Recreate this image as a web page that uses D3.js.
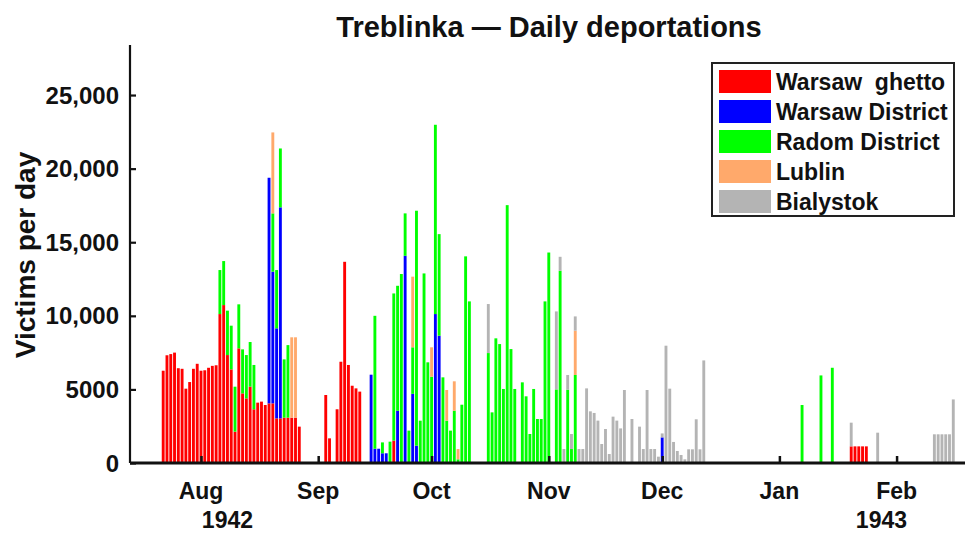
<!DOCTYPE html>
<html>
<head>
<meta charset="utf-8">
<script src="https://cdnjs.cloudflare.com/ajax/libs/d3/7.8.5/d3.min.js"></script>
<style>
body { margin: 0; background: #fff; }
svg text { font-family: Arial, "Liberation Sans", sans-serif; font-weight: bold; fill: #111; }
</style>
</head>
<body>
<div id="chart"></div>
<script>
// daily arrivals, [date, victims]
var warsawGhetto = [
  ["1942-07-22", 6270], ["1942-07-23", 7320], ["1942-07-24", 7400], ["1942-07-25", 7500],
  ["1942-07-26", 6440], ["1942-07-27", 6400], ["1942-07-28", 5050], ["1942-07-29", 5500],
  ["1942-07-30", 6400], ["1942-07-31", 6740], ["1942-08-01", 6270], ["1942-08-02", 6300],
  ["1942-08-03", 6470], ["1942-08-04", 6600], ["1942-08-05", 6640], ["1942-08-06", 10120],
  ["1942-08-07", 10730], ["1942-08-08", 7335], ["1942-08-09", 6360], ["1942-08-10", 2130],
  ["1942-08-11", 7790], ["1942-08-12", 4730], ["1942-08-13", 4390], ["1942-08-14", 5185],
  ["1942-08-15", 3650], ["1942-08-16", 4100], ["1942-08-17", 4170], ["1942-08-18", 3940],
  ["1942-08-19", 4050], ["1942-08-20", 4050], ["1942-08-21", 3030], ["1942-08-22", 3030],
  ["1942-08-23", 3080], ["1942-08-24", 3080], ["1942-08-25", 3080], ["1942-08-26", 3080],
  ["1942-08-27", 2470],
  ["1942-09-03", 4620], ["1942-09-04", 1675], ["1942-09-06", 3650], ["1942-09-07", 6880],
  ["1942-09-08", 13670], ["1942-09-09", 6660], ["1942-09-10", 5250], ["1942-09-11", 5070],
  ["1942-09-12", 4850], ["1942-09-21", 1520],
  ["1943-01-20", 1130], ["1943-01-21", 1130], ["1943-01-22", 1130], ["1943-01-23", 1130],
  ["1943-01-24", 1130]
];
var warsawDistrict = [
  ["1942-08-19", 15330], ["1942-08-20", 8950], ["1942-08-21", 6120], ["1942-08-22", 14340],
  ["1942-09-15", 6000], ["1942-09-16", 970], ["1942-09-17", 970], ["1942-09-18", 660],
  ["1942-09-19", 660], ["1942-09-22", 3550], ["1942-09-24", 14080], ["1942-09-26", 4700],
  ["1942-09-27", 1180], ["1942-10-02", 10120], ["1942-10-03", 8650], ["1942-12-01", 1740]
];
var radomDistrict = [
  ["1942-08-06", 2990], ["1942-08-07", 2990], ["1942-08-08", 3015], ["1942-08-09", 2970],
  ["1942-08-10", 3055], ["1942-08-11", 2990], ["1942-08-12", 2990], ["1942-08-13", 2945],
  ["1942-08-14", 3035], ["1942-08-15", 3010],
  ["1942-08-20", 3960], ["1942-08-21", 3960], ["1942-08-22", 4000], ["1942-08-23", 3960],
  ["1942-08-24", 4930],
  ["1942-09-16", 9030], ["1942-09-18", 740], ["1942-09-20", 1450], ["1942-09-21", 10000],
  ["1942-09-22", 8490], ["1942-09-23", 12840], ["1942-09-24", 2880], ["1942-09-25", 2200],
  ["1942-09-26", 3160], ["1942-09-27", 15960], ["1942-09-28", 2875], ["1942-09-29", 12880],
  ["1942-09-30", 6840], ["1942-10-01", 5860], ["1942-10-02", 12860], ["1942-10-03", 6900],
  ["1942-10-04", 5820], ["1942-10-05", 2875], ["1942-10-06", 2200], ["1942-10-07", 3550],
  ["1942-10-08", 250], ["1942-10-09", 3960], ["1942-10-10", 14040], ["1942-10-11", 10980],
  ["1942-10-16", 7470], ["1942-10-17", 3440], ["1942-10-18", 8470], ["1942-10-19", 8080],
  ["1942-10-20", 5030], ["1942-10-21", 17520], ["1942-10-22", 7740], ["1942-10-23", 5030],
  ["1942-10-25", 5480], ["1942-10-26", 4530], ["1942-10-27", 1970], ["1942-10-28", 5030],
  ["1942-10-29", 2990], ["1942-10-30", 2990], ["1942-10-31", 10980], ["1942-11-01", 14300],
  ["1942-11-03", 5000], ["1942-11-04", 13060], ["1942-11-06", 4980], ["1942-11-07", 950],
  ["1942-11-08", 5980],
  ["1943-01-07", 3940], ["1943-01-12", 5950], ["1943-01-15", 6470]
];
var lublin = [
  ["1942-08-20", 5500], ["1942-08-25", 5460], ["1942-08-26", 5460], ["1942-09-26", 4800],
  ["1942-10-01", 2000], ["1942-10-05", 2085], ["1942-10-07", 2000], ["1942-10-08", 700],
  ["1942-11-08", 3010]
];
var bialystok = [
  ["1942-10-16", 3330], ["1942-11-03", 5300], ["1942-11-04", 950], ["1942-11-05", 950],
  ["1942-11-06", 1000], ["1942-11-07", 1020], ["1942-11-08", 970], ["1942-11-09", 950],
  ["1942-11-10", 950], ["1942-11-11", 5070], ["1942-11-12", 3510], ["1942-11-13", 3400],
  ["1942-11-14", 2880], ["1942-11-15", 1290], ["1942-11-16", 2310], ["1942-11-17", 610],
  ["1942-11-18", 3150], ["1942-11-19", 2880], ["1942-11-20", 2350], ["1942-11-21", 4960],
  ["1942-11-23", 2990], ["1942-11-25", 2470], ["1942-11-26", 950], ["1942-11-27", 4960],
  ["1942-11-28", 950], ["1942-11-29", 950], ["1942-11-30", 430], ["1942-12-01", 270],
  ["1942-12-02", 7970], ["1942-12-03", 5050], ["1942-12-04", 1430], ["1942-12-05", 815],
  ["1942-12-06", 545], ["1942-12-07", 250], ["1942-12-08", 930], ["1942-12-09", 930],
  ["1942-12-10", 2970], ["1942-12-11", 930], ["1942-12-12", 6970],
  ["1943-01-20", 1610], ["1943-01-27", 2060],
  ["1943-02-11", 1950], ["1943-02-12", 1950], ["1943-02-13", 1950], ["1943-02-14", 1950],
  ["1943-02-15", 1950], ["1943-02-16", 4320]
];

var seriesKeys = ["ghetto", "district", "radom", "lublin", "bialystok"];
var seriesData = [warsawGhetto, warsawDistrict, radomDistrict, lublin, bialystok];
var seriesNames = ["Warsaw  ghetto", "Warsaw District", "Radom District", "Lublin", "Bialystok"];
var seriesColors = ["#ff0000", "#0000ff", "#00ff00", "#ffa96b", "#b4b4b4"];

var yTicks = [0, 5000, 10000, 15000, 20000, 25000];
var yTickLabels = ["0", "5000", "10,000", "15,000", "20,000", "25,000"];
var monthTicks = ["1942-08-01", "1942-09-01", "1942-10-01", "1942-11-01", "1942-12-01", "1943-01-01", "1943-02-01"];
var monthLabels = ["Aug", "Sep", "Oct", "Nov", "Dec", "Jan", "Feb"];
var yearLabels = [["1942", "1942-08-08"], ["1943", "1943-01-28"]];
var xLimits = ["1942-07-13T05:17:00Z", "1943-02-19T02:24:00Z"];
var yMax = 28400;

var width = 968,
    height = 533;
// plot box (can't use "top" as a global name, it is window.top)
var plotLeft = 130, plotRight = 965, plotTop = 45, plotBottom = 463;

var parse = function(s) { return new Date(s.length > 10 ? s : s + "T00:00:00Z"); };

// one row per day, zeros where nothing arrived
var start = parse("1942-07-22"), end = parse("1943-02-16");
var days = d3.utcDay.range(start, d3.utcDay.offset(end, 1));
var byDay = {};
days.forEach(function(d) {
  var row = {date: d};
  seriesKeys.forEach(function(k) { row[k] = 0; });
  byDay[+d] = row;
});
seriesData.forEach(function(list, i) {
  list.forEach(function(p) { byDay[+parse(p[0])][seriesKeys[i]] = p[1]; });
});
var table = days.map(function(d) { return byDay[+d]; });

var stacked = d3.stack().keys(seriesKeys)(table);

var x = d3.scaleUtc()
  .domain(xLimits.map(parse))
  .range([plotLeft, plotRight]);

var y = d3.scaleLinear()
  .domain([0, yMax])
  .range([plotBottom, plotTop]);

var dayWidth = x(d3.utcDay.offset(start, 1)) - x(start);
var barW = dayWidth - 0.9;

var svg = d3.select("#chart").append("svg")
  .attr("width", width)
  .attr("height", height);

// bars
var layers = svg.append("g").selectAll("g")
  .data(stacked)
  .enter().append("g")
  .attr("fill", function(d, i) { return seriesColors[i]; });

layers.selectAll("rect")
  .data(function(d) { return d.filter(function(p) { return p[1] > p[0]; }); })
  .enter().append("rect")
  .attr("x", function(p) { return x(p.data.date) - barW / 2; })
  .attr("y", function(p) { return y(p[1]); })
  .attr("width", barW)
  .attr("height", function(p) { return y(p[0]) - y(p[1]); });

// y axis, ticks pointing inward
var yAxis = svg.append("g")
  .attr("transform", "translate(" + plotLeft + ",0)")
  .call(d3.axisRight(y).tickValues(yTicks).tickSize(6).tickFormat(""));
yAxis.select(".domain").attr("d", "M0," + plotTop + "V" + plotBottom).attr("stroke", "#111").attr("stroke-width", 2.2);
yAxis.selectAll(".tick line").attr("stroke", "#111").attr("stroke-width", 2.2);

svg.append("g").selectAll("text")
  .data(yTicks)
  .enter().append("text")
  .attr("x", plotLeft - 11)
  .attr("y", function(d) { return y(d); })
  .attr("dy", "0.36em")
  .attr("text-anchor", "end")
  .style("font-size", "24px")
  .text(function(d, i) { return yTickLabels[i]; });

// x axis
var xAxis = svg.append("g")
  .attr("transform", "translate(0," + plotBottom + ")")
  .call(d3.axisTop(x).tickValues(monthTicks.map(parse)).tickSize(7).tickFormat(""));
xAxis.select(".domain").attr("d", "M" + plotLeft + ",0H" + plotRight).attr("stroke", "#111").attr("stroke-width", 3);
xAxis.selectAll(".tick line").attr("stroke", "#111").attr("stroke-width", 2.5);

svg.append("g").selectAll("text")
  .data(monthTicks)
  .enter().append("text")
  .attr("x", function(d) { return x(parse(d)); })
  .attr("y", plotBottom + 36)
  .attr("text-anchor", "middle")
  .style("font-size", "23px")
  .text(function(d, i) { return monthLabels[i]; });

svg.append("g").selectAll("text")
  .data(yearLabels)
  .enter().append("text")
  .attr("x", function(d) { return x(parse(d[1])); })
  .attr("y", plotBottom + 65)
  .attr("text-anchor", "middle")
  .style("font-size", "23px")
  .text(function(d) { return d[0]; });

// titles
svg.append("text")
  .attr("x", 549)
  .attr("y", 37)
  .attr("text-anchor", "middle")
  .style("font-size", "29px")
  .text("Treblinka \u2014 Daily deportations");

svg.append("text")
  .attr("transform", "translate(35,255)rotate(-90)")
  .attr("text-anchor", "middle")
  .style("font-size", "28px")
  .text("Victims per day");

// legend
var legend = svg.append("g").attr("transform", "translate(712,63)");
legend.append("rect")
  .attr("width", 242)
  .attr("height", 153)
  .attr("fill", "#fff")
  .attr("stroke", "#222")
  .attr("stroke-width", 2);
var item = legend.selectAll(".item")
  .data(seriesNames)
  .enter().append("g")
  .attr("transform", function(d, i) { return "translate(0," + (7 + i * 30) + ")"; });
item.append("rect")
  .attr("x", 7)
  .attr("width", 52)
  .attr("height", 23)
  .attr("fill", function(d, i) { return seriesColors[i]; });
item.append("text")
  .attr("x", 64)
  .attr("y", 20)
  .style("font-size", "23px")
  .style("white-space", "pre")
  .text(function(d) { return d; });
</script>
</body>
</html>
